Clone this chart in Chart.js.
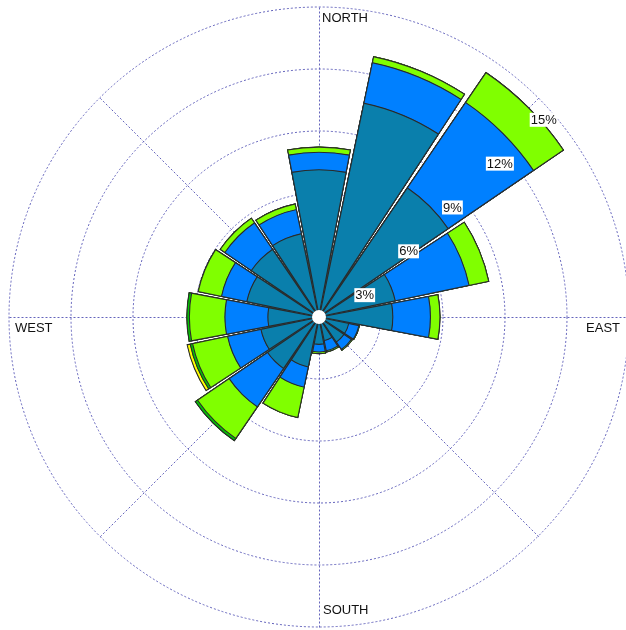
<!DOCTYPE html>
<html lang="en">
<head>
<meta charset="UTF-8">
<title>Wind Rose</title>
<script src="https://cdn.jsdelivr.net/npm/chart.js"></script>
<style>
  html, body { margin: 0; padding: 0; overflow: hidden; background: #fff; }
  #rose { position: absolute; left: -1px; top: -3px; }
</style>
</head>
<body>
<canvas id="rose" width="640" height="640"></canvas>
<script>
  // 16 compass sectors, clockwise from north
  var directions = ['N', 'NNE', 'NE', 'ENE', 'E', 'ESE', 'SE', 'SSE', 'S', 'SSW', 'SW', 'WSW', 'W', 'WNW', 'NW', 'NNW'];

  // frequency (%) of each wind speed class per sector, lowest class first
  var speed1 = [7.15, 10.6, 7.6, 3.8, 3.6, 1.5, 1.5, 1.2, 1.35, 2.5, 3.05, 2.9, 2.5, 3.6, 4.0, 4.15];
  var speed2 = [0.85, 2.0, 5.0, 3.65, 1.82, 0.5, 0.43, 0.5, 0.37, 1.0, 2.25, 1.65, 2.08, 1.25, 1.55, 1.19];
  var speed3 = [0.25, 0.3, 1.75, 0.97, 0.46, 0.03, 0.05, 0.06, 0.08, 1.5, 1.85, 1.73, 1.72, 1.15, 0.27, 0.28];
  var speed4 = [0, 0, 0, 0, 0, 0, 0, 0, 0, 0, 0.13, 0.12, 0.12, 0, 0, 0];
  var speed5 = [0, 0, 0, 0, 0, 0, 0, 0, 0, 0, 0, 0.15, 0, 0, 0, 0];

  var speedColors = ['#0A7FAC', '#0080FF', '#80FF00', '#00C800', '#FFFF00'];

  var ringTicks = [3, 6, 9, 12, 15];
  var ringLabels = ['3%', '6%', '9%', '12%', '15%'];

  var BAR_ANGLE = 21.4;              // degrees per sector bar
  var GAP_ANGLE = 22.5 - BAR_ANGLE;  // thin white gap between bars
  var GRID_COLOR = '#6464BC';
  var FONT = '13px "Liberation Sans", Arial, sans-serif';

  // stack the classes: each ring of the rose is drawn from the centre out to the running total
  var classes = [speed1, speed2, speed3, speed4, speed5];
  var totals = directions.map(function () { return 0; });
  var datasets = classes.map(function (values, k) {
    var data = [];
    values.forEach(function (v, i) {
      totals[i] += v;
      data.push(+totals[i].toFixed(3));
      data.push(0); // gap slot
    });
    return {
      data: data,
      backgroundColor: speedColors[k],
      borderColor: '#2a2a2a',
      borderAlign: 'inner',
      borderWidth: function (ctx) { return ctx.dataIndex % 2 ? 0 : 0.8; },
      angle: function (ctx) { return ctx.dataIndex % 2 ? GAP_ANGLE : BAR_ANGLE; }
    };
  });

  var labels = [];
  directions.forEach(function (d) { labels.push(d); labels.push(''); });

  // dotted spokes every 45 degrees, under the bars
  var spokes = {
    id: 'spokes',
    beforeDatasetsDraw: function (chart) {
      var s = chart.scales.r, ctx = chart.ctx;
      var R = s.getDistanceFromCenterForValue(15);
      ctx.save();
      ctx.strokeStyle = GRID_COLOR;
      ctx.lineWidth = 1;
      ctx.setLineDash([2, 2]);
      for (var a = 0; a < 360; a += 45) {
        var t = a * Math.PI / 180;
        ctx.beginPath();
        ctx.moveTo(s.xCenter + 0.5, s.yCenter + 0.5);
        ctx.lineTo(s.xCenter + 0.5 + R * Math.sin(t), s.yCenter + 0.5 - R * Math.cos(t));
        ctx.stroke();
      }
      ctx.restore();
    }
  };

  // hub, percentage labels and compass names
  var annotations = {
    id: 'annotations',
    afterDatasetsDraw: function (chart) {
      var s = chart.scales.r, ctx = chart.ctx;
      var cx = s.xCenter, cy = s.yCenter;
      var R = s.getDistanceFromCenterForValue(15);
      ctx.save();
      ctx.fillStyle = '#fff';
      ctx.beginPath();
      ctx.arc(cx, cy, 7, 0, Math.PI * 2);
      ctx.fill();

      ctx.font = FONT;
      ctx.textBaseline = 'middle';
      ctx.textAlign = 'left';
      ringTicks.forEach(function (v, i) {
        var r = s.getDistanceFromCenterForValue(v);
        var px = cx + r * Math.SQRT1_2, py = cy - r * Math.SQRT1_2;
        var w = ctx.measureText(ringLabels[i]).width;
        var left = px - 7.5, mid = py + 22;
        ctx.fillStyle = '#fff';
        ctx.fillRect(left - 1, mid - 7, w + 2, 14);
        ctx.fillStyle = '#111';
        ctx.fillText(ringLabels[i], left, mid + 0.5);
      });

      ctx.fillStyle = '#111';
      ctx.textAlign = 'left';
      ctx.fillText('NORTH', cx + 3, cy - R + 11);
      ctx.fillText('SOUTH', cx + 4, cy + R - 17);
      ctx.fillText('WEST', cx - R + 6, cy + 11);
      ctx.textAlign = 'right';
      ctx.fillText('EAST', cx + R - 9, cy + 11);
      ctx.restore();
    }
  };

  new Chart(document.getElementById('rose'), {
    type: 'polarArea',
    data: { labels: labels, datasets: datasets },
    options: {
      responsive: false,
      animation: false,
      layout: { padding: 10 },
      plugins: {
        legend: { display: false },
        tooltip: { enabled: false }
      },
      scales: {
        r: {
          min: 0,
          max: 15,
          startAngle: -BAR_ANGLE / 2,
          ticks: { display: false, stepSize: 3 },
          angleLines: { display: false },
          pointLabels: { display: false },
          grid: { circular: true, color: GRID_COLOR, lineWidth: 1, borderDash: [2, 2] },
          border: { dash: [2, 2] }
        }
      }
    },
    plugins: [spokes, annotations]
  });
</script>
</body>
</html>
